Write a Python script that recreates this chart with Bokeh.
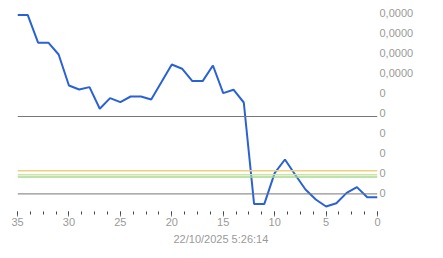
from bokeh.plotting import figure
from bokeh.models import Range1d, FixedTicker, SingleIntervalTicker, Title, Span
from bokeh.embed import file_html
from bokeh.resources import INLINE

# x: days back (35 .. 0)
days = list(range(35, -1, -1))
values = [8.87, 8.87, 7.49, 7.49, 6.90, 5.35, 5.15, 5.27, 4.19, 4.72,
          4.52, 4.80, 4.80, 4.65, 5.52, 6.40, 6.19, 5.57, 5.57, 6.35,
          4.97, 5.14, 4.50, -0.57, -0.57, 0.97, 1.65, 0.89, 0.15, -0.35,
          -0.70, -0.54, -0.02, 0.27, -0.24, -0.24]

y_ticks = [0, 1, 2, 3, 4, 5, 6, 7, 8, 9]
y_tick_labels = ["0", "0", "0", "0", "0", "0", "0,0000", "0,0000", "0,0000", "0,0000"]

gray_levels = [3.80, -0.07]
gray_color = "#777777"
band_levels = [1.09, 0.89, 0.77]
band_colors = ["#f0d080", "#c8e4a8", "#a8d890"]

x_title = "22/10/2025 5:26:14"

FONT = "Liberation Sans"
LABEL_COLOR = "#9a9a9a"

p = figure(width=443, height=258, output_backend="svg", toolbar_location=None,
           x_range=Range1d(35, 0), y_range=Range1d(-0.95, 9.35),
           y_axis_location="right",
           min_border_left=17, min_border_right=66, min_border_top=5,
           min_border_bottom=47)
p.outline_line_color = None
p.grid.grid_line_color = None
p.background_fill_color = "white"

for lv in gray_levels:
    p.add_layout(Span(location=lv, dimension="width", line_color=gray_color, line_width=1))
for lv, c in zip(band_levels, band_colors):
    p.add_layout(Span(location=lv, dimension="width", line_color=c, line_width=1.5))

p.line(days, values, line_color="#2a62d4", line_width=2)

# x axis
xa = p.xaxis[0]
xa.ticker = SingleIntervalTicker(interval=5, num_minor_ticks=4)
xa.axis_line_color = None
xa.major_tick_line_color = "#777777"
xa.minor_tick_line_color = "#444444"
xa.major_tick_in = 0
xa.major_tick_out = 5
xa.minor_tick_in = 0
xa.minor_tick_out = 3
xa.major_label_text_font = FONT
xa.major_label_text_font_size = "11px"
xa.major_label_text_color = LABEL_COLOR
xa.major_label_standoff = 1

# y axis (right)
ya = p.yaxis[0]
ya.ticker = FixedTicker(ticks=y_ticks)
ya.major_label_overrides = {t: s for t, s in zip(y_ticks, y_tick_labels)}
ya.axis_line_color = None
ya.major_tick_line_color = None
ya.minor_tick_line_color = None
ya.major_tick_out = 0
ya.major_tick_in = 0
ya.major_label_text_font = FONT
ya.major_label_text_font_size = "11px"
ya.major_label_text_color = LABEL_COLOR
ya.major_label_standoff = 2

p.add_layout(Title(text=x_title, align="left", offset=156, text_font=FONT,
                   text_font_size="11px", text_color=LABEL_COLOR,
                   text_font_style="normal", standoff=5), "below")

open("out.html", "w").write(file_html(p, INLINE))
